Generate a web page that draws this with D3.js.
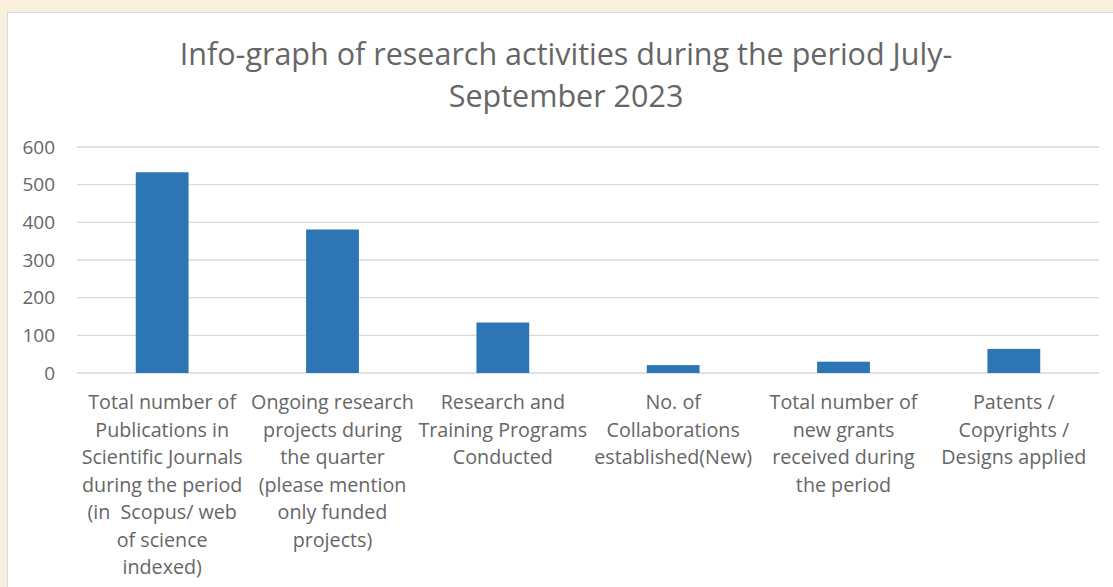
<!DOCTYPE html>
<html>
<head>
<meta charset="utf-8">
<script src="https://cdn.jsdelivr.net/npm/d3@7"></script>
<style>
  html, body { margin: 0; padding: 0; background: #F8EFDC; }
  svg { display: block; }
</style>
</head>
<body>
<div id="chart"></div>
<script>
const categories = [
    ['Total number of', 'Publications in', 'Scientific Journals', 'during the period', '(in  Scopus/ web', 'of science', 'indexed)'],
    ['Ongoing research', 'projects during', 'the quarter', '(please mention', 'only funded', 'projects)'],
    ['Research and', 'Training Programs', 'Conducted'],
    ['No. of', 'Collaborations', 'established(New)'],
    ['Total number of', 'new grants', 'received during', 'the period'],
    ['Patents /', 'Copyrights /', 'Designs applied'],
];
const values = [533, 381, 134, 21, 30, 64];
const yTicks = [0, 100, 200, 300, 400, 500, 600];
const titleLines = ['Info-graph of research activities during the period July-', 'September 2023'];

const width = 1113;
const height = 587;
const font = '"Open Sans", Lato, sans-serif';
const textColor = '#666666';

const svg = d3.select('#chart')
.append('svg')
.attr('width', width)
.attr('height', height);

// white chart panel
svg.append('rect')
.attr('x', 7.5)
.attr('y', 12.5)
.attr('width', width)
.attr('height', height)
.attr('fill', '#fff')
.attr('stroke', '#D9D9D9');

const margin = {left: 77, right: 14, top: 147, bottom: 214};

const x = d3.scaleBand()
.domain(d3.range(categories.length))
.range([margin.left, width - margin.right])
.paddingInner(0.69)
.paddingOuter(0.345);

const y = d3.scaleLinear()
.domain([0, 600])
.range([height - margin.bottom, margin.top]);

// gridlines
svg.append('g')
.selectAll('line')
.data(yTicks)
.enter()
.append('line')
.attr('x1', margin.left)
.attr('x2', width - margin.right)
.attr('y1', d => y(d))
.attr('y2', d => y(d))
.attr('stroke', '#D9D9D9')
.attr('stroke-width', 1.3);

// y axis labels
const yAxis = svg.append('g')
.attr('transform', `translate(${margin.left - 22},0)`)
.call(d3.axisLeft(y).tickValues(yTicks).tickSize(0).tickPadding(0));
yAxis.select('.domain').remove();
yAxis.selectAll('text')
.attr('font-family', font)
.attr('font-size', 19)
.attr('fill', textColor);

// bars
svg.append('g')
.selectAll('rect')
.data(values)
.enter()
.append('rect')
.attr('x', (d, i) => x(i))
.attr('width', x.bandwidth())
.attr('y', d => y(d))
.attr('height', d => y(0) - y(d))
.attr('fill', '#2E75B6');

// category labels
const labels = svg.append('g')
.selectAll('text')
.data(categories)
.enter()
.append('text')
.attr('text-anchor', 'middle')
.attr('font-family', font)
.attr('font-size', 19.7)
.attr('fill', textColor)
.attr('xml:space', 'preserve');

labels.selectAll('tspan')
.data((d, i) => d.map(line => ({line, i})))
.enter()
.append('tspan')
.attr('x', d => x(d.i) + x.bandwidth() / 2)
.attr('y', (d, j) => 409 + j * 27.5)
.text(d => d.line);

// title
svg.append('text')
.attr('text-anchor', 'middle')
.attr('font-family', font)
.attr('font-size', 30.5)
.attr('fill', textColor)
.selectAll('tspan')
.data(titleLines)
.enter()
.append('tspan')
.attr('x', 566)
.attr('y', (d, i) => 65 + i * 42)
.text(d => d);
</script>
</body>
</html>
